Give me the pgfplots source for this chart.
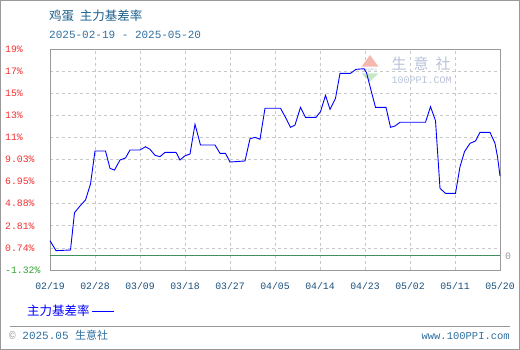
\documentclass[border=0pt]{standalone}
\usepackage{pgfplots}
\pgfplotsset{compat=1.18}
\usepackage{fontspec}
\setmainfont{Liberation Mono}
\newfontfamily\cjk{Noto Sans CJK SC}
\definecolor{titleblue}{HTML}{1B5E8C}
\definecolor{subblue}{HTML}{2F6F9F}
\definecolor{tickblue}{HTML}{1A4F7A}
\definecolor{ylabred}{HTML}{F03030}
\definecolor{ylabgreen}{HTML}{30A030}
\definecolor{zerogreen}{HTML}{3F8F5F}
\definecolor{gridgray}{HTML}{C8C8C8}
\definecolor{framegray}{HTML}{999999}
\definecolor{wmtext}{HTML}{B8C2D8}
\definecolor{wmred}{HTML}{F4B8AE}
\definecolor{wmgreen}{HTML}{C6E8C6}
\begin{document}
\begin{tikzpicture}[x=1pt,y=1pt]
\useasboundingbox (0,0) rectangle (520,350);
\draw[framegray,line width=1pt] (0.5,0.5) rectangle (519.5,349.5);
% titles
\node[anchor=west,inner sep=0,text=titleblue,font=\cjk\fontsize{12.5}{13}\selectfont] at (49,334.5) {鸡蛋\ \ 主力基差率};
\node[anchor=west,inner sep=0,text=subblue,font=\fontsize{11}{12}\selectfont] at (49,315.5) {2025-02-19 - 2025-05-20};
% watermark
\fill[wmred] (361.5,283.3) -- (378.5,283.3) -- (370,295) -- cycle;
\fill[wmgreen] (361.5,276.7) -- (378.5,276.7) -- (370,268.3) -- cycle;
\node[inner sep=0,text=wmtext,font=\fontsize{4}{4}\selectfont] at (370,280) {100PPI};
\node[anchor=west,inner sep=0,text=wmtext,font=\cjk\fontsize{15}{16}\selectfont] at (391.5,286) {生\hspace{7pt}意\hspace{7pt}社};
\node[anchor=west,inner sep=0,text=wmtext,font=\fontsize{10}{10}\selectfont] at (391.5,270) {100PPI.COM};
\begin{axis}[
  at={(50pt,80pt)}, anchor=south west,
  scale only axis, width=450pt, height=221pt,
  xmin=0, xmax=90, ymin=-1.32, ymax=19.355,
  axis line style={framegray, line width=0.8pt},
  major tick length=0pt,
  grid=major,
  major grid style={gridgray, dashed, line width=0.6pt},
  xtick={0,9,...,90},
  xticklabels={02/19,02/28,03/09,03/18,03/27,04/05,04/14,04/23,05/02,05/11,05/20},
  xticklabel style={anchor=center, yshift=-16.5pt, text=tickblue, font=\fontsize{9.8}{10}\selectfont},
  ytick={-1.32,0.7475,2.815,4.8825,6.95,9.0175,11.085,13.1525,15.22,17.2875,19.355},
  yticklabels={\textcolor{ylabgreen}{-1.32\%},0.74\%,2.81\%,4.88\%,6.95\%,9.03\%,11\%,13\%,15\%,17\%,19\%},
  yticklabel style={anchor=west, xshift=-45pt, inner sep=0pt, text=ylabred, font=\fontsize{9.8}{10}\selectfont},
  legend plot pos=right,
  legend style={at={(-0.0556,-0.1855)}, anchor=west, draw=none, fill=none, inner sep=0pt,
    font=\cjk\fontsize{12.5}{13}\selectfont, text=blue, legend cell align=left},
  legend image code/.code={\draw[blue,line width=0.8pt] (-0.1cm,0) -- (0.68cm,0);},
  clip=false,
]
\addplot[zerogreen, line width=1pt, forget plot] coordinates {(0,0) (90,0)};
\addplot[blue, line width=0.9pt] coordinates {
(0,1.42) (1.2,0.49) (4.1,0.55) (4.9,4.04) (6,4.67) (7.1,5.23) (8.1,6.72) (9,9.81)
(11.1,9.81) (12,8.19) (12.9,8.03) (14,8.97) (15.1,9.16) (16,9.91) (18,9.91)
(19.1,10.21) (20,9.97) (21,9.41) (22,9.28) (23,9.69) (25.2,9.69) (26,8.97)
(27,9.37) (28,9.53) (29,12.31) (30.1,10.37) (33,10.37) (34,9.59) (35.1,9.59)
(36,8.78) (39,8.88) (40,10.96) (41,11.09) (42,10.91) (43,13.81) (46.1,13.81)
(47.2,12.87) (48.1,12.03) (49,12.24) (50.1,13.90) (51.1,12.96) (53.2,12.96)
(54.1,13.49) (55.1,15.02) (56,13.71) (57.1,14.74) (58,17.08) (60.1,17.08)
(61.2,17.45) (62.8,17.51) (63.3,17.14) (64.1,15.68) (65.1,13.90) (67.2,13.90)
(68.1,12.03) (69,12.15) (70,12.50) (75.1,12.50) (76.1,13.96) (77.1,12.65)
(78,6.32) (79.1,5.85) (81.1,5.85) (82,8.34) (82.9,9.75) (84,10.53) (85.1,10.75)
(86,11.56) (88,11.56) (89,10.53) (89.5,9.28) (90,7.47)
};
\addlegendentry{主力基差率}
\node[anchor=west,inner sep=0,text=framegray,font=\fontsize{9.8}{10}\selectfont] at (axis cs:90,0) {\hspace{5pt}0};
\end{axis}
% footer
\draw[framegray,line width=0.8pt] (10,24) -- (510,24);
\node[anchor=west,inner sep=0,text=subblue,font=\fontsize{11}{12}\selectfont] at (9,14.5) {\textcolor{framegray}{©} 2025.05 {\cjk 生意社}};
\node[anchor=east,inner sep=0,text=subblue,font=\fontsize{10.5}{11}\selectfont] at (510,13.5) {www.100PPI.com};
\end{tikzpicture}
\end{document}
